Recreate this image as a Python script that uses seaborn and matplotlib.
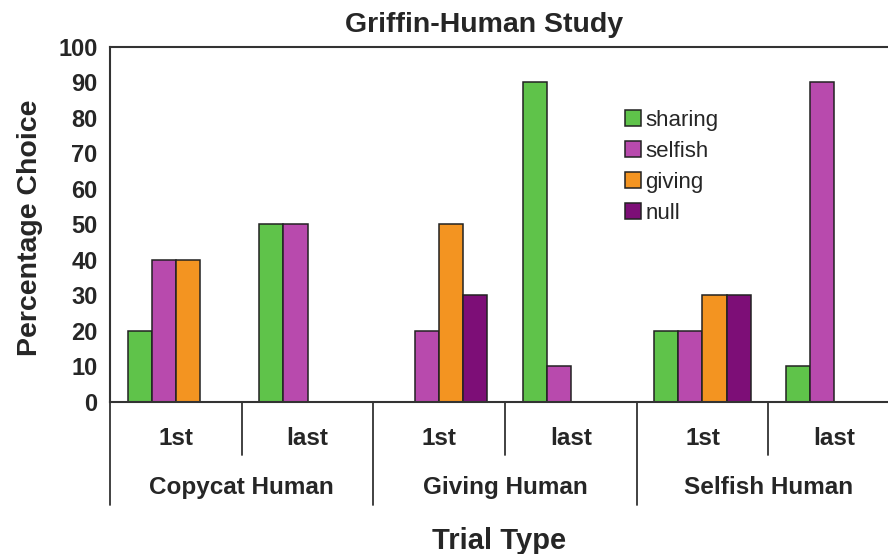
import matplotlib
matplotlib.use("Agg")
import matplotlib.pyplot as plt
import pandas as pd
import seaborn as sns

# data
groups = ["Copycat Human", "Giving Human", "Selfish Human"]
trials = ["1st", "last"]
choices = ["sharing", "selfish", "giving", "null"]
sharing = [20, 50, 0, 90, 20, 10]
selfish = [40, 50, 20, 10, 20, 90]
giving = [40, 0, 50, 0, 30, 0]
null = [0, 0, 30, 0, 30, 0]
palette = ["#5fc34a", "#b84aad", "#f39421", "#7d0e77"]

slots = [f"{g} {t}" for g in groups for t in trials]
values = {"sharing": sharing, "selfish": selfish, "giving": giving, "null": null}
df = pd.DataFrame(
    [(slot, choice, values[choice][i]) for choice in choices for i, slot in enumerate(slots)],
    columns=["slot", "choice", "pct"],
)

sns.set_style("white")
plt.rcParams["font.family"] = ["Liberation Sans", "DejaVu Sans"]
ink = "#333333"

fig = plt.figure(figsize=(8.88, 5.54), dpi=100)
ax = fig.add_axes([0.1239, 0.2744, 0.8896, 0.6408])

sns.barplot(data=df, x="slot", y="pct", hue="choice", order=slots, hue_order=choices,
            palette=palette, saturation=1, width=0.73, edgecolor="#222222",
            linewidth=1.1, ax=ax)

ax.set_xlim(-0.5, len(slots) - 0.5)
ax.set_ylim(0, 100)
ax.set_yticks(range(0, 101, 10))
ax.tick_params(axis="y", length=6, width=1.3, color=ink, labelsize=17, pad=3)
for lab in ax.get_yticklabels():
    lab.set_fontweight("bold")
ax.set_xticks(range(len(slots)))
ax.set_xticklabels(trials * len(groups), fontsize=17.5, fontweight="bold")
ax.tick_params(axis="x", length=0, pad=18)

for side in ["top", "left", "bottom"]:
    ax.spines[side].set_color(ink)
    ax.spines[side].set_linewidth(1.5)
ax.spines["right"].set_visible(False)

# category dividers under the axis
xt = ax.get_xaxis_transform()
for k in range(len(slots) + 1):
    x = k - 0.5
    bottom = -0.29 if k % 2 == 0 else -0.149
    ax.plot([x, x], [0, bottom], color=ink, lw=1.3, transform=xt, clip_on=False)
for gi, g in enumerate(groups):
    ax.text(2 * gi + 0.5, -0.242, g, transform=xt, ha="center", va="center",
            fontsize=17.5, fontweight="bold")

ax.set_xlabel("Trial Type", fontsize=21, fontweight="bold")
ax.xaxis.set_label_coords(0.5 * 778 / 790, -0.352)
ax.set_ylabel("Percentage Choice", fontsize=20.5, fontweight="bold")
ax.yaxis.set_label_coords(-0.085, 0.49)

fig.text(484 / 888, 0.954, "Griffin-Human Study", ha="center", va="center",
         fontsize=20.5, fontweight="bold")

handles, labels = ax.get_legend_handles_labels()
ax.legend(handles, labels, loc="upper left", bbox_to_anchor=(0.652, 0.822), frameon=False,
          fontsize=16, handlelength=0.72, handleheight=0.72, handletextpad=0.2,
          labelspacing=0.45, borderpad=0, borderaxespad=0)

fig.savefig("out.png", dpi=100)
